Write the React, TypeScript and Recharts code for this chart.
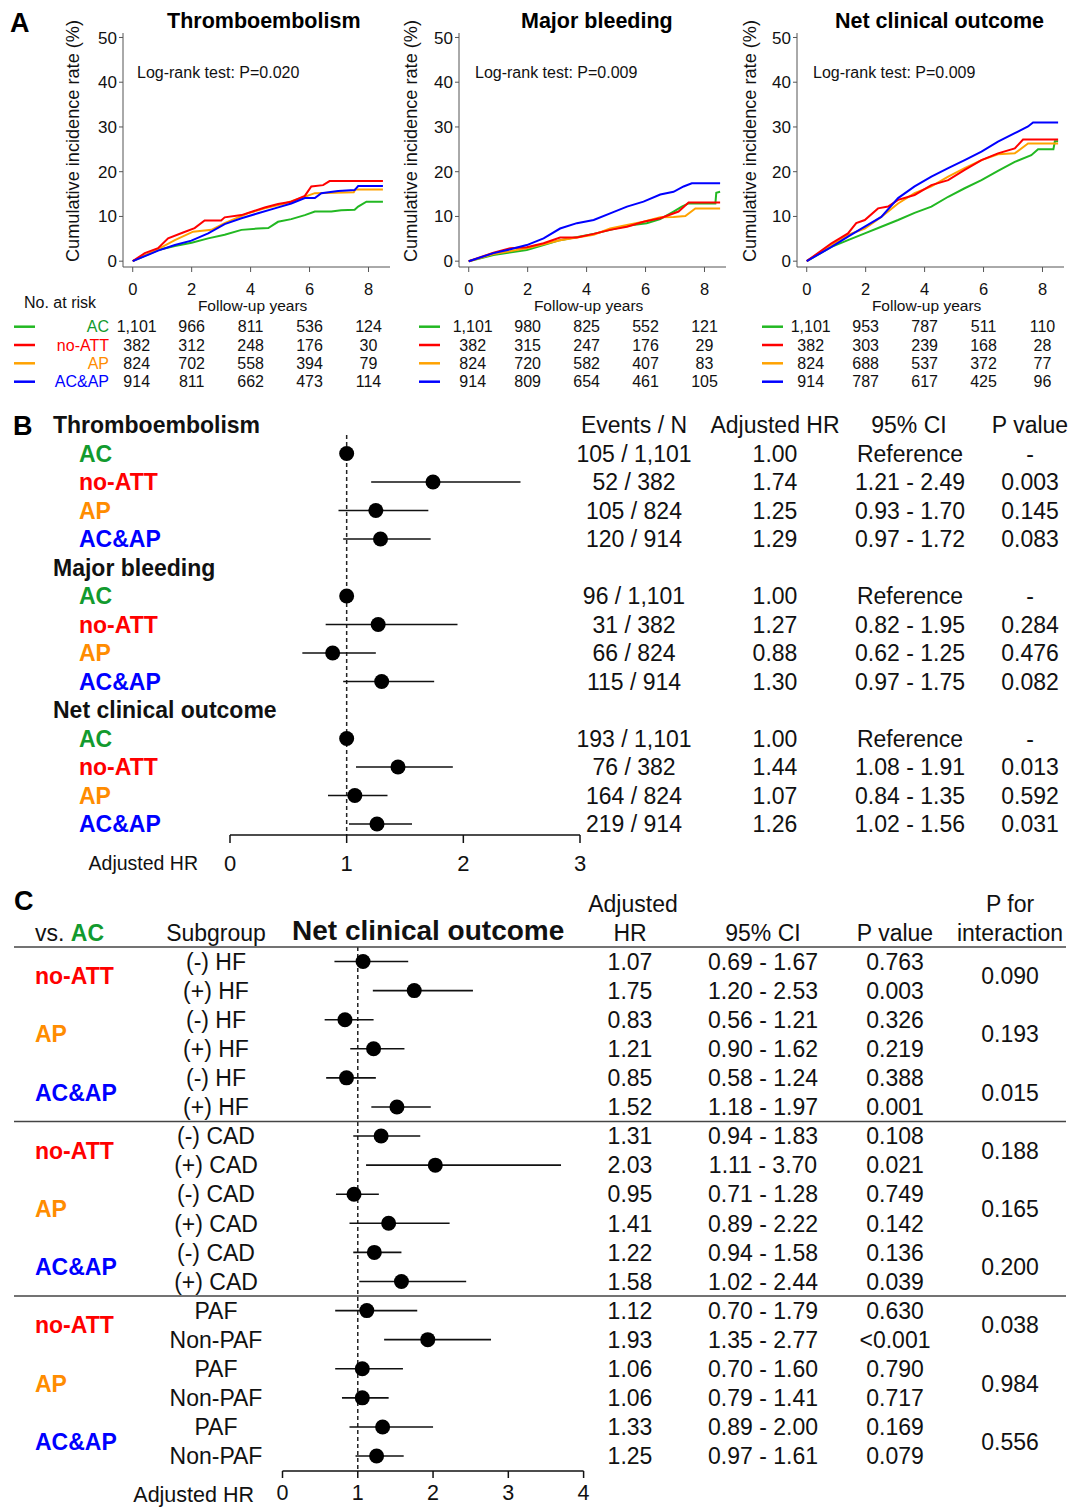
import React from 'react';
import { LineChart, Line, XAxis, YAxis, ComposedChart, Scatter, ReferenceLine } from 'recharts';

const FONT = 'Arial, "Liberation Sans", Helvetica, sans-serif';
const INK = '#111';

// ---------- shared groups ----------
const GROUPS = ['AC', 'no-ATT', 'AP', 'AC&AP'];
const LINE_COLORS = ['#22b822', '#ff0000', '#ffa200', '#0000ff'];
const TEXT_COLORS = ['#129a2e', '#ff0000', '#ff8c00', '#0000ff'];
const DRAW_ORDER = [0, 2, 1, 3];

// ---------- Panel A: cumulative incidence ----------
const KM_TICKS_X = [0, 2, 4, 6, 8];
const KM_TICKS_Y = [0, 10, 20, 30, 40, 50];
const KM_TITLES = ['Thromboembolism', 'Major bleeding', 'Net clinical outcome'];
const KM_LOGRANK = ['Log-rank test: P=0.020', 'Log-rank test: P=0.009', 'Log-rank test: P=0.009'];

const teAC = [[0, 0], [0.86, 2.5], [1.43, 3.4], [2.0, 4.1], [2.56, 5.1], [3.12, 5.9], [3.69, 7.0], [4.25, 7.3], [4.6, 7.4], [4.93, 8.8], [5.38, 9.4], [5.84, 10.3], [6.18, 11.1], [6.74, 11.1], [7.07, 11.4], [7.53, 11.5], [7.65, 12.2], [7.93, 13.3], [8.49, 13.3]];
const teNoATT = [[0, 0], [0.41, 1.8], [0.86, 2.9], [1.2, 5.1], [1.71, 6.4], [2.1, 7.4], [2.44, 9.1], [3.0, 9.1], [3.12, 9.8], [3.69, 10.3], [4.48, 12.0], [4.93, 12.8], [5.38, 13.3], [5.84, 14.6], [6.06, 16.7], [6.46, 17.0], [6.68, 17.9], [8.49, 17.9]];
const teAP = [[0, 0], [0.86, 2.7], [1.43, 4.7], [2.05, 6.6], [2.67, 7.0], [3.12, 8.5], [3.91, 10.7], [4.48, 11.8], [5.16, 12.9], [5.84, 14.4], [6.18, 15.2], [7.5, 15.4], [7.55, 16.0], [8.49, 16.0]];
const teACAP = [[0, 0], [0.86, 2.35], [1.43, 3.6], [1.99, 4.6], [2.56, 6.2], [3.12, 8.3], [3.69, 9.6], [4.25, 10.7], [4.82, 11.8], [5.38, 12.9], [5.84, 14.1], [6.18, 14.1], [6.4, 15.2], [6.97, 15.7], [7.53, 15.9], [7.65, 16.8], [8.49, 16.8]];

const mbAC = [[0, 0], [0.84, 1.4], [1.97, 2.5], [2.54, 3.6], [3.1, 4.7], [4.24, 6.1], [4.8, 7.0], [5.37, 7.9], [6.04, 8.5], [6.5, 9.4], [6.95, 11.1], [7.23, 12.2], [7.46, 12.9], [8.37, 12.9], [8.4, 15.3], [8.53, 15.5]];
const mbNoATT = [[0, 0], [0.84, 1.9], [1.41, 2.9], [1.97, 3.1], [2.54, 4.0], [3.1, 5.3], [3.67, 5.3], [4.24, 6.1], [4.8, 7.0], [5.37, 7.7], [5.93, 8.8], [6.5, 9.6], [7.12, 11.1], [7.46, 13.1], [8.53, 13.1]];
const mbAP = [[0, 0], [0.84, 1.6], [1.97, 2.9], [3.1, 4.7], [4.24, 5.9], [4.8, 7.3], [5.37, 8.1], [5.93, 8.8], [6.5, 9.8], [6.95, 9.9], [7.35, 10.1], [7.69, 11.8], [8.53, 11.8]];
const mbACAP = [[0, 0], [0.84, 1.8], [1.41, 2.65], [1.97, 3.6], [2.54, 5.1], [3.1, 7.3], [3.67, 8.5], [4.24, 9.2], [4.8, 10.7], [5.37, 12.2], [5.93, 13.3], [6.5, 14.9], [6.95, 15.5], [7.29, 16.7], [7.57, 17.4], [8.53, 17.4]];

const ncAC = [[0, 0], [0.84, 3.2], [1.4, 4.7], [1.97, 6.2], [2.53, 7.7], [3.1, 9.2], [3.66, 10.8], [4.23, 12.2], [4.8, 14.4], [5.36, 16.3], [5.93, 18.1], [6.49, 20.2], [7.06, 22.2], [7.62, 23.7], [7.85, 25.0], [8.37, 25.0], [8.42, 26.8], [8.53, 26.8]];
const ncNoATT = [[0, 0], [0.84, 4.0], [1.12, 5.1], [1.4, 6.2], [1.68, 8.5], [1.97, 9.2], [2.42, 11.8], [2.76, 12.2], [3.1, 13.7], [3.66, 14.8], [4.23, 17.0], [4.8, 18.1], [5.36, 20.4], [5.93, 22.6], [6.49, 24.1], [7.06, 25.2], [7.34, 27.2], [8.53, 27.2]];
const ncAP = [[0, 0], [0.84, 3.6], [1.4, 5.9], [1.97, 7.3], [2.53, 9.9], [3.1, 12.9], [3.66, 15.2], [4.23, 16.7], [4.8, 18.9], [5.36, 20.8], [5.93, 22.6], [6.49, 23.9], [7.06, 24.1], [7.51, 26.3], [8.53, 26.3]];
const ncACAP = [[0, 0], [0.84, 3.2], [1.4, 5.5], [1.97, 7.7], [2.53, 9.9], [3.1, 14.1], [3.66, 16.7], [4.23, 18.9], [4.8, 20.8], [5.36, 22.6], [5.93, 24.5], [6.49, 26.7], [7.06, 28.6], [7.51, 30.1], [7.68, 31.0], [8.53, 31.0]];

const RISK_TE = [
  ['1,101', '966', '811', '536', '124'],
  ['382', '312', '248', '176', '30'],
  ['824', '702', '558', '394', '79'],
  ['914', '811', '662', '473', '114'],
];
const RISK_MB = [
  ['1,101', '980', '825', '552', '121'],
  ['382', '315', '247', '176', '29'],
  ['824', '720', '582', '407', '83'],
  ['914', '809', '654', '461', '105'],
];
const RISK_NC = [
  ['1,101', '953', '787', '511', '110'],
  ['382', '303', '239', '168', '28'],
  ['824', '688', '537', '372', '77'],
  ['914', '787', '617', '425', '96'],
];

const KM_PANELS = [
  { plotLeft: 123, curves: [teAC, teNoATT, teAP, teACAP], risk: RISK_TE, dashX: 14 },
  { plotLeft: 459, curves: [mbAC, mbNoATT, mbAP, mbACAP], risk: RISK_MB, dashX: 419 },
  { plotLeft: 797, curves: [ncAC, ncNoATT, ncAP, ncACAP], risk: RISK_NC, dashX: 762 },
];
const RISK_ROW_Y = [326.7, 345, 363.3, 381.7];

// ---------- Panel B: adjusted HR by outcome ----------
const B_OUTCOMES = ['Thromboembolism', 'Major bleeding', 'Net clinical outcome'];
const B_EVENTS = [
  ['105 / 1,101', '52 / 382', '105 / 824', '120 / 914'],
  ['96 / 1,101', '31 / 382', '66 / 824', '115 / 914'],
  ['193 / 1,101', '76 / 382', '164 / 824', '219 / 914'],
];
const B_HR = [[1.0, 1.74, 1.25, 1.29], [1.0, 1.27, 0.88, 1.3], [1.0, 1.44, 1.07, 1.26]];
const B_LO = [[null, 1.21, 0.93, 0.97], [null, 0.82, 0.62, 0.97], [null, 1.08, 0.84, 1.02]];
const B_HI = [[null, 2.49, 1.7, 1.72], [null, 1.95, 1.25, 1.75], [null, 1.91, 1.35, 1.56]];
const B_P = [['-', '0.003', '0.145', '0.083'], ['-', '0.284', '0.476', '0.082'], ['-', '0.013', '0.592', '0.031']];
const B_TICKS = [0, 1, 2, 3];

// ---------- Panel C: subgroups, net clinical outcome ----------
const C_BLOCK_SUBS = [['(-) HF', '(+) HF'], ['(-) CAD', '(+) CAD'], ['PAF', 'Non-PAF']];
const C_VS = [1, 2, 3];
const C_HR = [1.07, 1.75, 0.83, 1.21, 0.85, 1.52, 1.31, 2.03, 0.95, 1.41, 1.22, 1.58, 1.12, 1.93, 1.06, 1.06, 1.33, 1.25];
const C_LO = [0.69, 1.2, 0.56, 0.9, 0.58, 1.18, 0.94, 1.11, 0.71, 0.89, 0.94, 1.02, 0.7, 1.35, 0.7, 0.79, 0.89, 0.97];
const C_HI = [1.67, 2.53, 1.21, 1.62, 1.24, 1.97, 1.83, 3.7, 1.28, 2.22, 1.58, 2.44, 1.79, 2.77, 1.6, 1.41, 2.0, 1.61];
const C_P = ['0.763', '0.003', '0.326', '0.219', '0.388', '0.001', '0.108', '0.021', '0.749', '0.142', '0.136', '0.039', '0.630', '<0.001', '0.790', '0.717', '0.169', '0.079'];
const C_PINT = ['0.090', '0.193', '0.015', '0.188', '0.165', '0.200', '0.038', '0.984', '0.556'];
const C_TICKS = [0, 1, 2, 3, 4];

const fmt = (v: number) => v.toFixed(2);

// ---------- Panel A component ----------
function KMPanel({ plotLeft, curves, risk }: any) {
  const chartLeft = plotLeft - 90;
  const width = 90 + 267 + 4;
  const tick = (p: any) => {
    const v = p.payload.value;
    const idx = KM_TICKS_X.indexOf(v);
    return (
      <g fontFamily={FONT}>
        <text x={p.x} y={294.5} textAnchor="middle" fontSize={16.5} fill={INK}>{v}</text>
        {v === 4 && (
          <text x={p.x + 2} y={311} textAnchor="middle" fontSize={15.5} fill={INK}>Follow-up years</text>
        )}
        {risk.map((row: string[], g: number) => (
          <text key={g} x={p.x + (idx === 0 ? 4 : 0)} y={RISK_ROW_Y[g] + 5.7} textAnchor="middle" fontSize={16} fill={INK}>
            {row[idx]}
          </text>
        ))}
      </g>
    );
  };
  return (
    <div style={{ position: 'absolute', left: chartLeft, top: 0 }}>
      <LineChart width={width} height={395} margin={{ top: 33, right: 4, bottom: 0, left: 30 }}>
        <XAxis type="number" dataKey="t" domain={[-0.33, 8.73]} ticks={KM_TICKS_X} allowDataOverflow interval={0}
          height={128} tickSize={5} stroke="#555" tick={tick} />
        <YAxis type="number" dataKey="y" domain={[-1.3, 51]} ticks={KM_TICKS_Y} allowDataOverflow interval={0}
          width={60} tickSize={4} tickMargin={2} stroke="#555"
          tick={{ fontSize: 17, fill: INK, fontFamily: FONT }} />
        {DRAW_ORDER.map((g) => (
          <Line key={g} data={curves[g].map(([t, y]: number[]) => ({ t, y }))} dataKey="y" type="linear"
            stroke={LINE_COLORS[g]} strokeWidth={2} dot={false} isAnimationActive={false} />
        ))}
      </LineChart>
    </div>
  );
}

// ---------- Panel B component ----------
const B_ROW_H = 28.5;
function ForestB() {
  const items: any[] = [];
  B_OUTCOMES.forEach((_, oi) =>
    GROUPS.forEach((_, gi) =>
      items.push({ row: oi * 5 + 1 + gi, hr: B_HR[oi][gi], lo: B_LO[oi][gi], hi: B_HI[oi][gi] })
    )
  );
  const rowTicks = Array.from({ length: 15 }, (_, i) => i);
  const tick = (p: any) => {
    const v = p.payload.value;
    const y = p.y + 8.2;
    const oi = Math.floor(v / 5);
    const k = v % 5;
    if (k === 0) {
      return (
        <g fontFamily={FONT} fontSize={23} fill={INK}>
          <text x={53} y={y} fontWeight="bold">{B_OUTCOMES[oi]}</text>
          {v === 0 && (
            <g>
              <text x={634} y={y} textAnchor="middle">Events / N</text>
              <text x={775} y={y} textAnchor="middle">Adjusted HR</text>
              <text x={909} y={y} textAnchor="middle">95% CI</text>
              <text x={1030} y={y} textAnchor="middle">P value</text>
            </g>
          )}
        </g>
      );
    }
    const gi = k - 1;
    const lo = B_LO[oi][gi];
    const hi = B_HI[oi][gi];
    return (
      <g fontFamily={FONT} fontSize={23} fill={INK}>
        <text x={79} y={y} fontWeight="bold" fill={TEXT_COLORS[gi]}>{GROUPS[gi]}</text>
        <text x={634} y={y} textAnchor="middle">{B_EVENTS[oi][gi]}</text>
        <text x={775} y={y} textAnchor="middle">{fmt(B_HR[oi][gi])}</text>
        <text x={910} y={y} textAnchor="middle">{lo == null ? 'Reference' : `${fmt(lo)} - ${fmt(hi as number)}`}</text>
        <text x={1030} y={y} textAnchor="middle">{B_P[oi][gi]}</text>
      </g>
    );
  };
  return (
    <div style={{ position: 'absolute', left: 0, top: 400 }}>
      <ComposedChart width={1068} height={480} margin={{ top: 3, right: 488, bottom: 0, left: 170 }}>
        <XAxis type="number" dataKey="hr" domain={[0, 3]} ticks={B_TICKS} allowDataOverflow interval={0}
          height={45} tickSize={8} tickMargin={12}
          axisLine={{ stroke: INK, strokeWidth: 1.5 }} tickLine={{ stroke: INK, strokeWidth: 1.5 }}
          tick={{ fontSize: 22, fill: INK, fontFamily: FONT }} />
        <YAxis type="number" dataKey="row" reversed domain={[-22 / B_ROW_H, 410 / B_ROW_H]} allowDataOverflow
          ticks={rowTicks} interval={0} width={60} axisLine={false} tickLine={false} tick={tick} />
        <ReferenceLine segment={[{ x: 1, y: 0.35 }, { x: 1, y: 410 / B_ROW_H }]} stroke="#222" strokeWidth={1.5} strokeDasharray="4 3" />
        {items.filter((d) => d.lo != null).map((d) => (
          <ReferenceLine key={d.row} segment={[{ x: d.lo, y: d.row }, { x: d.hi, y: d.row }]} stroke={INK} strokeWidth={1.5} />
        ))}
        <Scatter data={items} isAnimationActive={false}
          shape={(p: any) => <circle cx={p.cx} cy={p.cy} r={7.5} fill="#000" />} />
      </ComposedChart>
    </div>
  );
}

// ---------- Panel C component ----------
const C_ROW_H = 29.09;
function ForestC() {
  const items = C_HR.map((hr, i) => ({ row: i, hr, lo: C_LO[i], hi: C_HI[i] }));
  const ticks: number[] = [-2, -1, -0.5, 5.5, 11.5];
  for (let i = 0; i < 18; i++) ticks.push(i);
  for (let i = 0; i < 9; i++) ticks.push(i * 2 + 0.5);
  const tick = (p: any) => {
    const v = p.payload.value;
    const y = p.y + 8.2;
    if (v === -2) {
      return (
        <g fontFamily={FONT} fontSize={23} fill={INK}>
          <text x={633} y={y} textAnchor="middle">Adjusted</text>
          <text x={1010} y={y} textAnchor="middle">P for</text>
        </g>
      );
    }
    if (v === -1) {
      return (
        <g fontFamily={FONT} fontSize={23} fill={INK}>
          <text x={35} y={y}>vs. <tspan fill={TEXT_COLORS[0]} fontWeight="bold">AC</tspan></text>
          <text x={216} y={y} textAnchor="middle">Subgroup</text>
          <text x={292} y={y - 1} fontSize={28} fontWeight="bold">Net clinical outcome</text>
          <text x={630} y={y} textAnchor="middle">HR</text>
          <text x={763} y={y} textAnchor="middle">95% CI</text>
          <text x={895} y={y} textAnchor="middle">P value</text>
          <text x={1010} y={y} textAnchor="middle">interaction</text>
        </g>
      );
    }
    if (v === -0.5 || v === 5.5 || v === 11.5) {
      return <line x1={14} x2={1066} y1={p.y} y2={p.y} stroke="#444" strokeWidth={1.5} />;
    }
    if (!Number.isInteger(v)) {
      const pair = Math.floor(v / 2);
      const gi = C_VS[pair % 3];
      return (
        <g fontFamily={FONT} fontSize={23}>
          <text x={35} y={y} fontWeight="bold" fill={TEXT_COLORS[gi]}>{GROUPS[gi]}</text>
          <text x={1010} y={y} textAnchor="middle" fill={INK}>{C_PINT[pair]}</text>
        </g>
      );
    }
    const block = Math.floor(v / 6);
    const sub = v % 2;
    return (
      <g fontFamily={FONT} fontSize={23} fill={INK}>
        <text x={216} y={y} textAnchor="middle">{C_BLOCK_SUBS[block][sub]}</text>
        <text x={630} y={y} textAnchor="middle">{fmt(C_HR[v])}</text>
        <text x={763} y={y} textAnchor="middle">{`${fmt(C_LO[v])} - ${fmt(C_HI[v])}`}</text>
        <text x={895} y={y} textAnchor="middle">{C_P[v]}</text>
      </g>
    );
  };
  const top = 5;
  const bottom = 591;
  const row0 = 81.5;
  return (
    <div style={{ position: 'absolute', left: 0, top: 880 }}>
      <ComposedChart width={1068} height={628} margin={{ top, right: 484.4, bottom: 0, left: 222.5 }}>
        <XAxis type="number" dataKey="hr" domain={[0, 4]} ticks={C_TICKS} allowDataOverflow interval={0}
          height={628 - bottom} tickSize={7} tickMargin={7}
          axisLine={{ stroke: INK, strokeWidth: 1.5 }} tickLine={{ stroke: INK, strokeWidth: 1.5 }}
          tick={{ fontSize: 21.5, fill: INK, fontFamily: FONT }} />
        <YAxis type="number" dataKey="row" reversed
          domain={[(top - row0) / C_ROW_H, (bottom - row0) / C_ROW_H]} allowDataOverflow
          ticks={ticks} interval={0} width={60} axisLine={false} tickLine={false} tick={tick} />
        <ReferenceLine segment={[{ x: 1, y: -0.5 }, { x: 1, y: (bottom - row0) / C_ROW_H }]} stroke="#222" strokeWidth={1.5} strokeDasharray="4 3" />
        {items.map((d) => (
          <ReferenceLine key={d.row} segment={[{ x: d.lo, y: d.row }, { x: d.hi, y: d.row }]} stroke={INK} strokeWidth={1.6} />
        ))}
        <Scatter data={items} isAnimationActive={false}
          shape={(p: any) => <circle cx={p.cx} cy={p.cy} r={7.5} fill="#000" />} />
      </ComposedChart>
    </div>
  );
}

// ---------- static labels ----------
function Overlay() {
  const titleX = [167, 521, 835];
  const logX = [137, 475, 813];
  const ylabX = [72, 410, 749];
  return (
    <svg width={1068} height={1508} style={{ position: 'absolute', left: 0, top: 0, pointerEvents: 'none' }} fontFamily={FONT}>
      <text x={10} y={32} fontSize={27} fontWeight="bold" fill="#000">A</text>
      {KM_TITLES.map((t, i) => (
        <text key={t} x={titleX[i]} y={28} fontSize={21.5} fontWeight="bold" fill="#000">{t}</text>
      ))}
      {KM_LOGRANK.map((t, i) => (
        <text key={i} x={logX[i]} y={77.5} fontSize={16} fill={INK}>{t}</text>
      ))}
      {ylabX.map((x, i) => (
        <text key={i} transform={`translate(${x + 6.8},141) rotate(-90)`} textAnchor="middle" fontSize={19}
          textLength={242} lengthAdjust="spacingAndGlyphs" fill={INK}>
          Cumulative incidence rate (%)
        </text>
      ))}
      <text x={24} y={308} fontSize={16} fill={INK}>No. at risk</text>
      {GROUPS.map((g, gi) => (
        <text key={g} x={109} y={RISK_ROW_Y[gi] + 5.7} textAnchor="end" fontSize={16} fill={TEXT_COLORS[gi]}>{g}</text>
      ))}
      {KM_PANELS.map((p, pi) =>
        GROUPS.map((g, gi) => (
          <line key={`${pi}-${gi}`} x1={p.dashX} x2={p.dashX + 21} y1={RISK_ROW_Y[gi]} y2={RISK_ROW_Y[gi]}
            stroke={LINE_COLORS[gi]} strokeWidth={2.5} />
        ))
      )}
      <text x={13} y={435} fontSize={27} fontWeight="bold" fill="#000">B</text>
      <text x={198} y={870} fontSize={19.5} textAnchor="end" fill={INK}>Adjusted HR</text>
      <text x={14} y={910} fontSize={27} fontWeight="bold" fill="#000">C</text>
      <text x={254} y={1502} fontSize={21.5} textAnchor="end" fill={INK}>Adjusted HR</text>
    </svg>
  );
}

export default function App() {
  return (
    <div style={{ position: 'absolute', left: 0, top: 0, width: 1068, height: 1508, background: '#fff', fontFamily: FONT, overflow: 'hidden' }}>
      {KM_PANELS.map((p, i) => (
        <KMPanel key={i} plotLeft={p.plotLeft} curves={p.curves} risk={p.risk} />
      ))}
      <ForestB />
      <ForestC />
      <Overlay />
    </div>
  );
}
